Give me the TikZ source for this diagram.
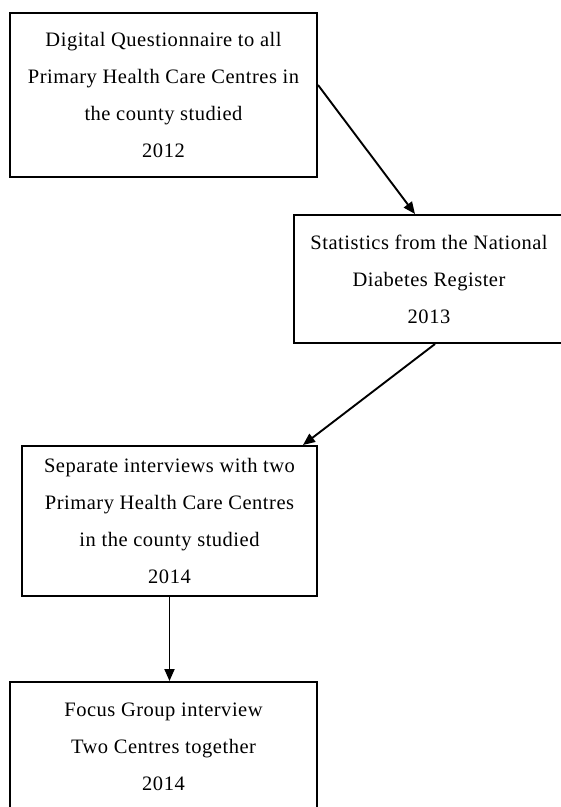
\documentclass[tikz,border=0pt]{standalone}
\usepackage{fontspec}
\setmainfont[LetterSpace=2.5]{Liberation Serif}
\usetikzlibrary{arrows.meta}
\begin{document}
\begin{tikzpicture}[x=1pt,y=-1pt,
  box/.style={draw=black, line width=2pt, inner sep=0pt, align=center,
    font=\fontsize{20.5}{37}\selectfont},
  arr/.style={draw=black, line width=1.9pt, -{Triangle[length=12pt,width=10pt]}}]
\useasboundingbox (0,0) rectangle (561,807);
\node[box, minimum width=307pt, minimum height=164pt] (b1) at (163.5,95)
  {Digital Questionnaire to all\\Primary Health Care Centres in\\the county studied\\2012};
\node[box, minimum width=270pt, minimum height=128pt] (b2) at (429,279)
  {Statistics from the National\\Diabetes Register\\2013};
\node[box, minimum width=295pt, minimum height=150pt] (b3) at (169.5,521)
  {Separate interviews with two\\Primary Health Care Centres\\in the county studied\\2014};
\node[box, minimum width=307pt, minimum height=129pt] (b4) at (163.5,746.5)
  {Focus Group interview\\Two Centres together\\2014};
\draw[arr] ([yshift=10pt]b1.east) -- ([xshift=-14pt]b2.north);
\draw[arr] ([xshift=6pt]b2.south) -- ([xshift=-15pt]b3.north east);
\draw[arr] (b3.south) -- (b3.south |- b4.north);
\end{tikzpicture}
\end{document}
